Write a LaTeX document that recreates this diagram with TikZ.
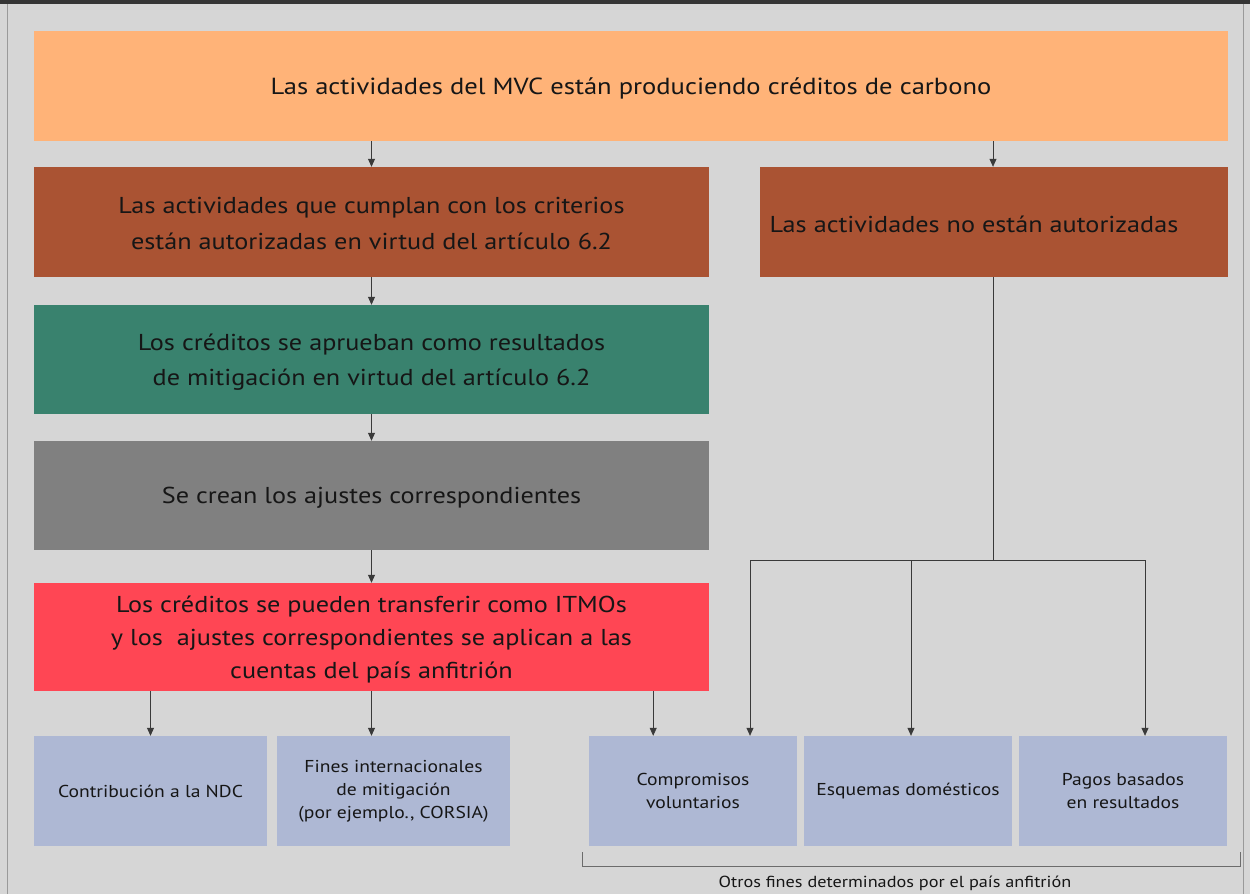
\documentclass[tikz,border=0pt]{standalone}
\usepackage{fontspec}
\setmainfont{PT Sans}[FakeStretch=1.14]
\usetikzlibrary{arrows.meta}
\definecolor{bgc}{HTML}{D6D6D6}
\definecolor{barc}{HTML}{353535}
\definecolor{bordc}{HTML}{9A9A9A}
\definecolor{orangec}{HTML}{FFB378}
\definecolor{brownc}{HTML}{AA5333}
\definecolor{greenc}{HTML}{39826E}
\definecolor{grayc}{HTML}{808080}
\definecolor{redc}{HTML}{FF4654}
\definecolor{bluec}{HTML}{AEB8D4}
\definecolor{linec}{HTML}{3A3A3A}
\definecolor{txtc}{HTML}{161616}
\tikzset{
  bigbox/.style={rectangle, inner sep=0pt, align=center, text=txtc,
    font=\fontsize{23}{35.5}\selectfont},
  oneline/.style={text depth=0pt},
  smallbox/.style={rectangle, inner sep=0pt, align=center, text=txtc, fill=bluec,
    minimum width=233pt, minimum height=110pt,
    font=\fontsize{17.2}{23}\selectfont},
  conn/.style={draw=linec, line width=0.8pt},
  arr/.style={conn, -{Triangle[width=7pt,length=8pt]}},
  lbl/.style={inner sep=0pt, align=center, text=txtc},
}
\begin{document}
\begin{tikzpicture}[x=1pt,y=-1pt]
\useasboundingbox (0,0) rectangle (1250,894);
\fill[bgc] (0,0) rectangle (1250,894);
\fill[barc] (0,0) rectangle (1250,4);
\draw[bordc, line width=1pt] (7.5,4) -- (7.5,894);
\draw[bordc, line width=1pt] (1243,4) -- (1243,894);

\node[bigbox, oneline, fill=orangec, minimum width=1194pt, minimum height=110pt, font=\fontsize{23.3}{30}\selectfont] (top) at (631,86)
  {Las actividades del MVC están produciendo créditos de carbono};
\node[bigbox, fill=brownc, minimum width=675pt, minimum height=110pt] (lb) at (371.5,222) {};
\node[bigbox] (lbt) at (371.5,223.5)
  {Las actividades que cumplan con los criterios\\están autorizadas en virtud del artículo 6.2};
\node[bigbox, fill=brownc, minimum width=468pt, minimum height=110pt] (rb) at (994,222) {};
\node[bigbox, oneline] (rbt) at (974,224) {Las actividades no están autorizadas};
\node[bigbox, fill=greenc, minimum width=675pt, minimum height=109pt] (gb) at (371.5,359.5) {};
\node[bigbox] (gbt) at (371.5,362)
  {Los créditos se aprueban como resultados\\de mitigación en virtud del artículo 6.2};
\node[bigbox, oneline, fill=grayc, minimum width=675pt, minimum height=109pt] (yb) at (371.5,495.5)
  {Se crean los ajustes correspondientes};
\node[bigbox, fill=redc, minimum width=675pt, minimum height=108pt] (red) at (371.5,637) {};
\node[bigbox, font=\fontsize{23}{33}\selectfont] (redt) at (371.5,640)
  {Los créditos se pueden transferir como ITMOs\\y los\ \ ajustes correspondientes se aplican a las\\cuentas del país anfitrión};

\node[smallbox] (b1) at (150.5,791) {Contribución a la NDC};
\node[smallbox] (b2) at (393.5,791) {Fines internacionales\\de mitigación\\(por ejemplo., CORSIA)};
\node[smallbox, minimum width=208pt] (b3) at (693,791) {Compromisos\\voluntarios};
\node[smallbox, minimum width=208pt] (b4) at (908,791) {Esquemas domésticos};
\node[smallbox, minimum width=208pt] (b5) at (1123,791) {Pagos basados\\en resultados};

% connectors
\draw[arr] (lb.north |- top.south) -- (lb.north);
\coordinate (tr) at (993,141);
\draw[arr] (tr) -- (tr |- rb.north);
\draw[arr] (lb.south) -- (gb.north);
\draw[arr] (gb.south) -- (yb.north);
\draw[arr] (yb.south) -- (red.north);

\draw[arr] (b1.north |- red.south) -- (b1.north);
\draw[arr] (red.south) -- (red.south |- b2.north);
\coordinate (r3) at ([xshift=-56pt]red.south east);
\draw[arr] (r3) -- (r3 |- b3.north);

\coordinate (j) at (tr |- 0,560);
\coordinate (jl) at (750,560);
\coordinate (jm) at (911,560);
\coordinate (jr) at (1145,560);
\draw[conn] (tr |- rb.south) -- (j);
\draw[conn] (jl) -- (jr);
\draw[arr] (jl) -- (jl |- b3.north);
\draw[arr] (jm) -- (jm |- b4.north);
\draw[arr] (jr) -- (jr |- b5.north);

% bracket
\coordinate (k1) at (582,852);
\coordinate (k2) at (582,866);
\coordinate (k3) at (1240,866);
\coordinate (k4) at (1240,852);
\draw[draw=bordc!70!black, line width=1pt] (k1) -- (k2) -- (k3) -- (k4);
\node[lbl, font=\fontsize{16}{20}\selectfont] (otros) at (895,883)
  {Otros fines determinados por el país anfitrión};
\end{tikzpicture}
\end{document}
